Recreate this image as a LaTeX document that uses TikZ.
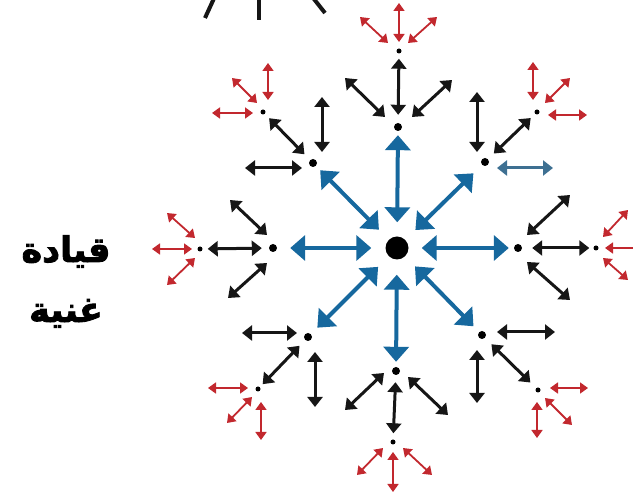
\documentclass[tikz,border=0pt]{standalone}
\usepackage{fontspec}
\usepackage{tikz}
\usetikzlibrary{arrows.meta,calc}
\newfontfamily\arabicfont[Script=Arabic,FakeBold=2.5]{DejaVu Sans Bold}
\TeXXeTstate=1
\definecolor{hubblue}{RGB}{22,104,158}
\definecolor{steelblue}{RGB}{62,112,146}
\definecolor{leafred}{RGB}{194,40,46}
\definecolor{inkblack}{RGB}{22,22,22}
\tikzset{
  hub/.style   = {circle, fill=black, minimum size=23pt, inner sep=0pt},
  hdot/.style  = {circle, fill=black, minimum size=8pt, inner sep=0pt},
  sdot/.style  = {circle, fill=black, minimum size=5pt, inner sep=0pt},
  barr/.style  = {{Triangle[length=15pt,width=25pt]}-{Triangle[length=15pt,width=25pt]},
                  line width=4pt, draw=hubblue, fill=hubblue},
  karr/.style  = {{Triangle[length=10pt,width=15pt]}-{Triangle[length=10pt,width=15pt]},
                  line width=3pt, draw=inkblack, fill=inkblack},
  garr/.style  = {{Triangle[length=10pt,width=15pt]}-{Triangle[length=10pt,width=15pt]},
                  line width=3pt, draw=steelblue, fill=steelblue},
  rarr/.style  = {{Triangle[length=8pt,width=11pt]}-{Triangle[length=8pt,width=11pt]},
                  line width=1.8pt, draw=leafred, fill=leafred},
  cut/.style   = {line width=4pt, draw=inkblack},
  lead/.style  = {anchor=base, font=\arabicfont\fontsize{35}{40}\selectfont},
}

\begin{document}
\begin{tikzpicture}[x=1pt, y=-1pt]

\useasboundingbox (0,0) rectangle (633,494);
\clip (0,0) rectangle (633,494);

%% ── Core and first ring ───────────────────────────────────
\node[hub]  (core) at (397,248) {};
\node[hdot] (r1n)  at (398,127) {};
\node[hdot] (r1ne) at (485,162) {};
\node[hdot] (r1e)  at (518,248) {};
\node[hdot] (r1se) at (482,335) {};
\node[hdot] (r1s)  at (396,371) {};
\node[hdot] (r1sw) at (308,337) {};
\node[hdot] (r1w)  at (273,248) {};
\node[hdot] (r1nw) at (313,163) {};

%% ── Second ring ───────────────────────────────────────────
\node[sdot] (r2n)  at (399,51)  {};
\node[sdot] (r2ne) at (537,112) {};
\node[sdot] (r2e)  at (596,248) {};
\node[sdot] (r2se) at (538,390) {};
\node[sdot] (r2s)  at (393,442) {};
\node[sdot] (r2sw) at (258,389) {};
\node[sdot] (r2w)  at (200,249) {};
\node[sdot] (r2nw) at (263,112) {};

%% ── Label ─────────────────────────────────────────────────
\node[lead] (lead1) at (66,262) {\beginR قيادة\endR};
\node[lead] (lead2) at (66,322) {\beginR غنية\endR};

%% ── Arrows: core → first ring ─────────────────────────────
\draw[barr, shorten <=14pt, shorten >=4pt]  (core) -- (r1n);
\draw[barr, shorten <=14pt, shorten >=12pt] (core) -- (r1ne);
\draw[barr, shorten <=13pt, shorten >=5pt]  (core) -- (r1e);
\draw[barr, shorten <=14pt, shorten >=8pt]  (core) -- (r1se);
\draw[barr, shorten <=15pt, shorten >=5pt]  (core) -- (r1s);
\draw[barr, shorten <=15pt, shorten >=9pt]  (core) -- (r1sw);
\draw[barr, shorten <=14pt, shorten >=13pt] (core) -- (r1w);
\draw[barr, shorten <=14pt, shorten >=6pt]  (core) -- (r1nw);

%% ── Arrows: first ring → second ring ──────────────────────
\draw[karr, shorten <=8pt, shorten >=5pt] (r1n)  -- (r2n);
\draw[karr, shorten <=8pt, shorten >=6pt] (r1ne) -- (r2ne);
\draw[karr, shorten <=10pt, shorten >=4pt] (r1e) -- (r2e);
\draw[karr, shorten <=9pt, shorten >=8pt] (r1se) -- (r2se);
\draw[karr, shorten <=7pt, shorten >=6pt] (r1s)  -- (r2s);
\draw[karr, shorten <=8pt, shorten >=4pt] (r1sw) -- (r2sw);
\draw[karr, shorten <=7pt, shorten >=5pt] (r1w)  -- (r2w);
\draw[karr, shorten <=8pt, shorten >=6pt] (r1nw) -- (r2nw);

%% ── Arrows: first ring, side branches ────────────────────
\draw[karr] ($(r1n)+(-13,-10)$) -- ($(r1n)+(-53,-49)$);
\draw[karr] ($(r1n)+(14,-10)$)  -- ($(r1n)+(54,-47)$);
\draw[karr] ($(r1ne)+(-8,-10)$) -- ($(r1ne)+(-8,-70)$);
\draw[garr] ($(r1ne)+(12,6)$)   -- ($(r1ne)+(68,6)$);
\draw[karr] ($(r1e)+(9,-13)$)   -- ($(r1e)+(52,-53)$);
\draw[karr] ($(r1e)+(9,14)$)    -- ($(r1e)+(52,52)$);
\draw[karr] ($(r1se)+(15,-3)$)  -- ($(r1se)+(73,-3)$);
\draw[karr] ($(r1se)+(-5,15)$)  -- ($(r1se)+(-5,68)$);
\draw[karr] ($(r1s)+(-12,2)$)   -- ($(r1s)+(-51,39)$);
\draw[karr] ($(r1s)+(12,6)$)    -- ($(r1s)+(52,44)$);
\draw[karr] ($(r1sw)+(-11,-4)$) -- ($(r1sw)+(-66,-4)$);
\draw[karr] ($(r1sw)+(7,15)$)   -- ($(r1sw)+(7,70)$);
\draw[karr] ($(r1w)+(-6,-13)$)  -- ($(r1w)+(-43,-48)$);
\draw[karr] ($(r1w)+(-6,15)$)   -- ($(r1w)+(-45,50)$);
\draw[karr] ($(r1nw)+(-11,5)$)  -- ($(r1nw)+(-68,5)$);
\draw[karr] ($(r1nw)+(9,-11)$)  -- ($(r1nw)+(9,-66)$);

%% ── Arrows: second ring, red fans ─────────────────────────
\draw[rarr] ($(r2n)+(-11,-8)$)  -- ($(r2n)+(-39,-34)$);
\draw[rarr] ($(r2n)+(0,-9)$)    -- ($(r2n)+(0,-48)$);
\draw[rarr] ($(r2n)+(9,-8)$)    -- ($(r2n)+(38,-34)$);

\draw[rarr] ($(r2ne)+(-4,-12)$) -- ($(r2ne)+(-4,-50)$);
\draw[rarr] ($(r2ne)+(8,-9)$)   -- ($(r2ne)+(33,-34)$);
\draw[rarr] ($(r2ne)+(11,3)$)   -- ($(r2ne)+(50,3)$);

\draw[rarr] ($(r2e)+(9,0)$)     -- ($(r2e)+(50,0)$);
\draw[rarr] ($(r2e)+(7,-11)$)   -- ($(r2e)+(32,-38)$);
\draw[rarr] ($(r2e)+(7,10)$)    -- ($(r2e)+(32,32)$);

\draw[rarr] ($(r2se)+(12,-2)$)  -- ($(r2se)+(50,-2)$);
\draw[rarr] ($(r2se)+(7,8)$)    -- ($(r2se)+(34,35)$);
\draw[rarr] ($(r2se)+(-1,12)$)  -- ($(r2se)+(-1,48)$);

\draw[rarr] ($(r2s)+(-10,6)$)   -- ($(r2s)+(-36,33)$);
\draw[rarr] ($(r2s)+(0,10)$)    -- ($(r2s)+(0,50)$);
\draw[rarr] ($(r2s)+(10,6)$)    -- ($(r2s)+(39,33)$);

\draw[rarr] ($(r2sw)+(-10,-1)$) -- ($(r2sw)+(-50,-1)$);
\draw[rarr] ($(r2sw)+(-6,8)$)   -- ($(r2sw)+(-31,34)$);
\draw[rarr] ($(r2sw)+(3,13)$)   -- ($(r2sw)+(3,51)$);

\draw[rarr] ($(r2w)+(-8,0)$)    -- ($(r2w)+(-48,0)$);
\draw[rarr] ($(r2w)+(-5,-11)$)  -- ($(r2w)+(-33,-36)$);
\draw[rarr] ($(r2w)+(-5,9)$)    -- ($(r2w)+(-33,36)$);

\draw[rarr] ($(r2nw)+(5,-12)$)  -- ($(r2nw)+(5,-49)$);
\draw[rarr] ($(r2nw)+(-6,-9)$)  -- ($(r2nw)+(-31,-34)$);
\draw[rarr] ($(r2nw)+(-10,1)$)  -- ($(r2nw)+(-51,1)$);

%% ── Cut-off strokes at the top edge ──────────────────────
\draw[cut] (205,18) -- (216,-6);
\draw[cut] (259,20) -- (259,-6);
\draw[cut] (325,13) -- (310,-6);

\end{tikzpicture}
\end{document}
